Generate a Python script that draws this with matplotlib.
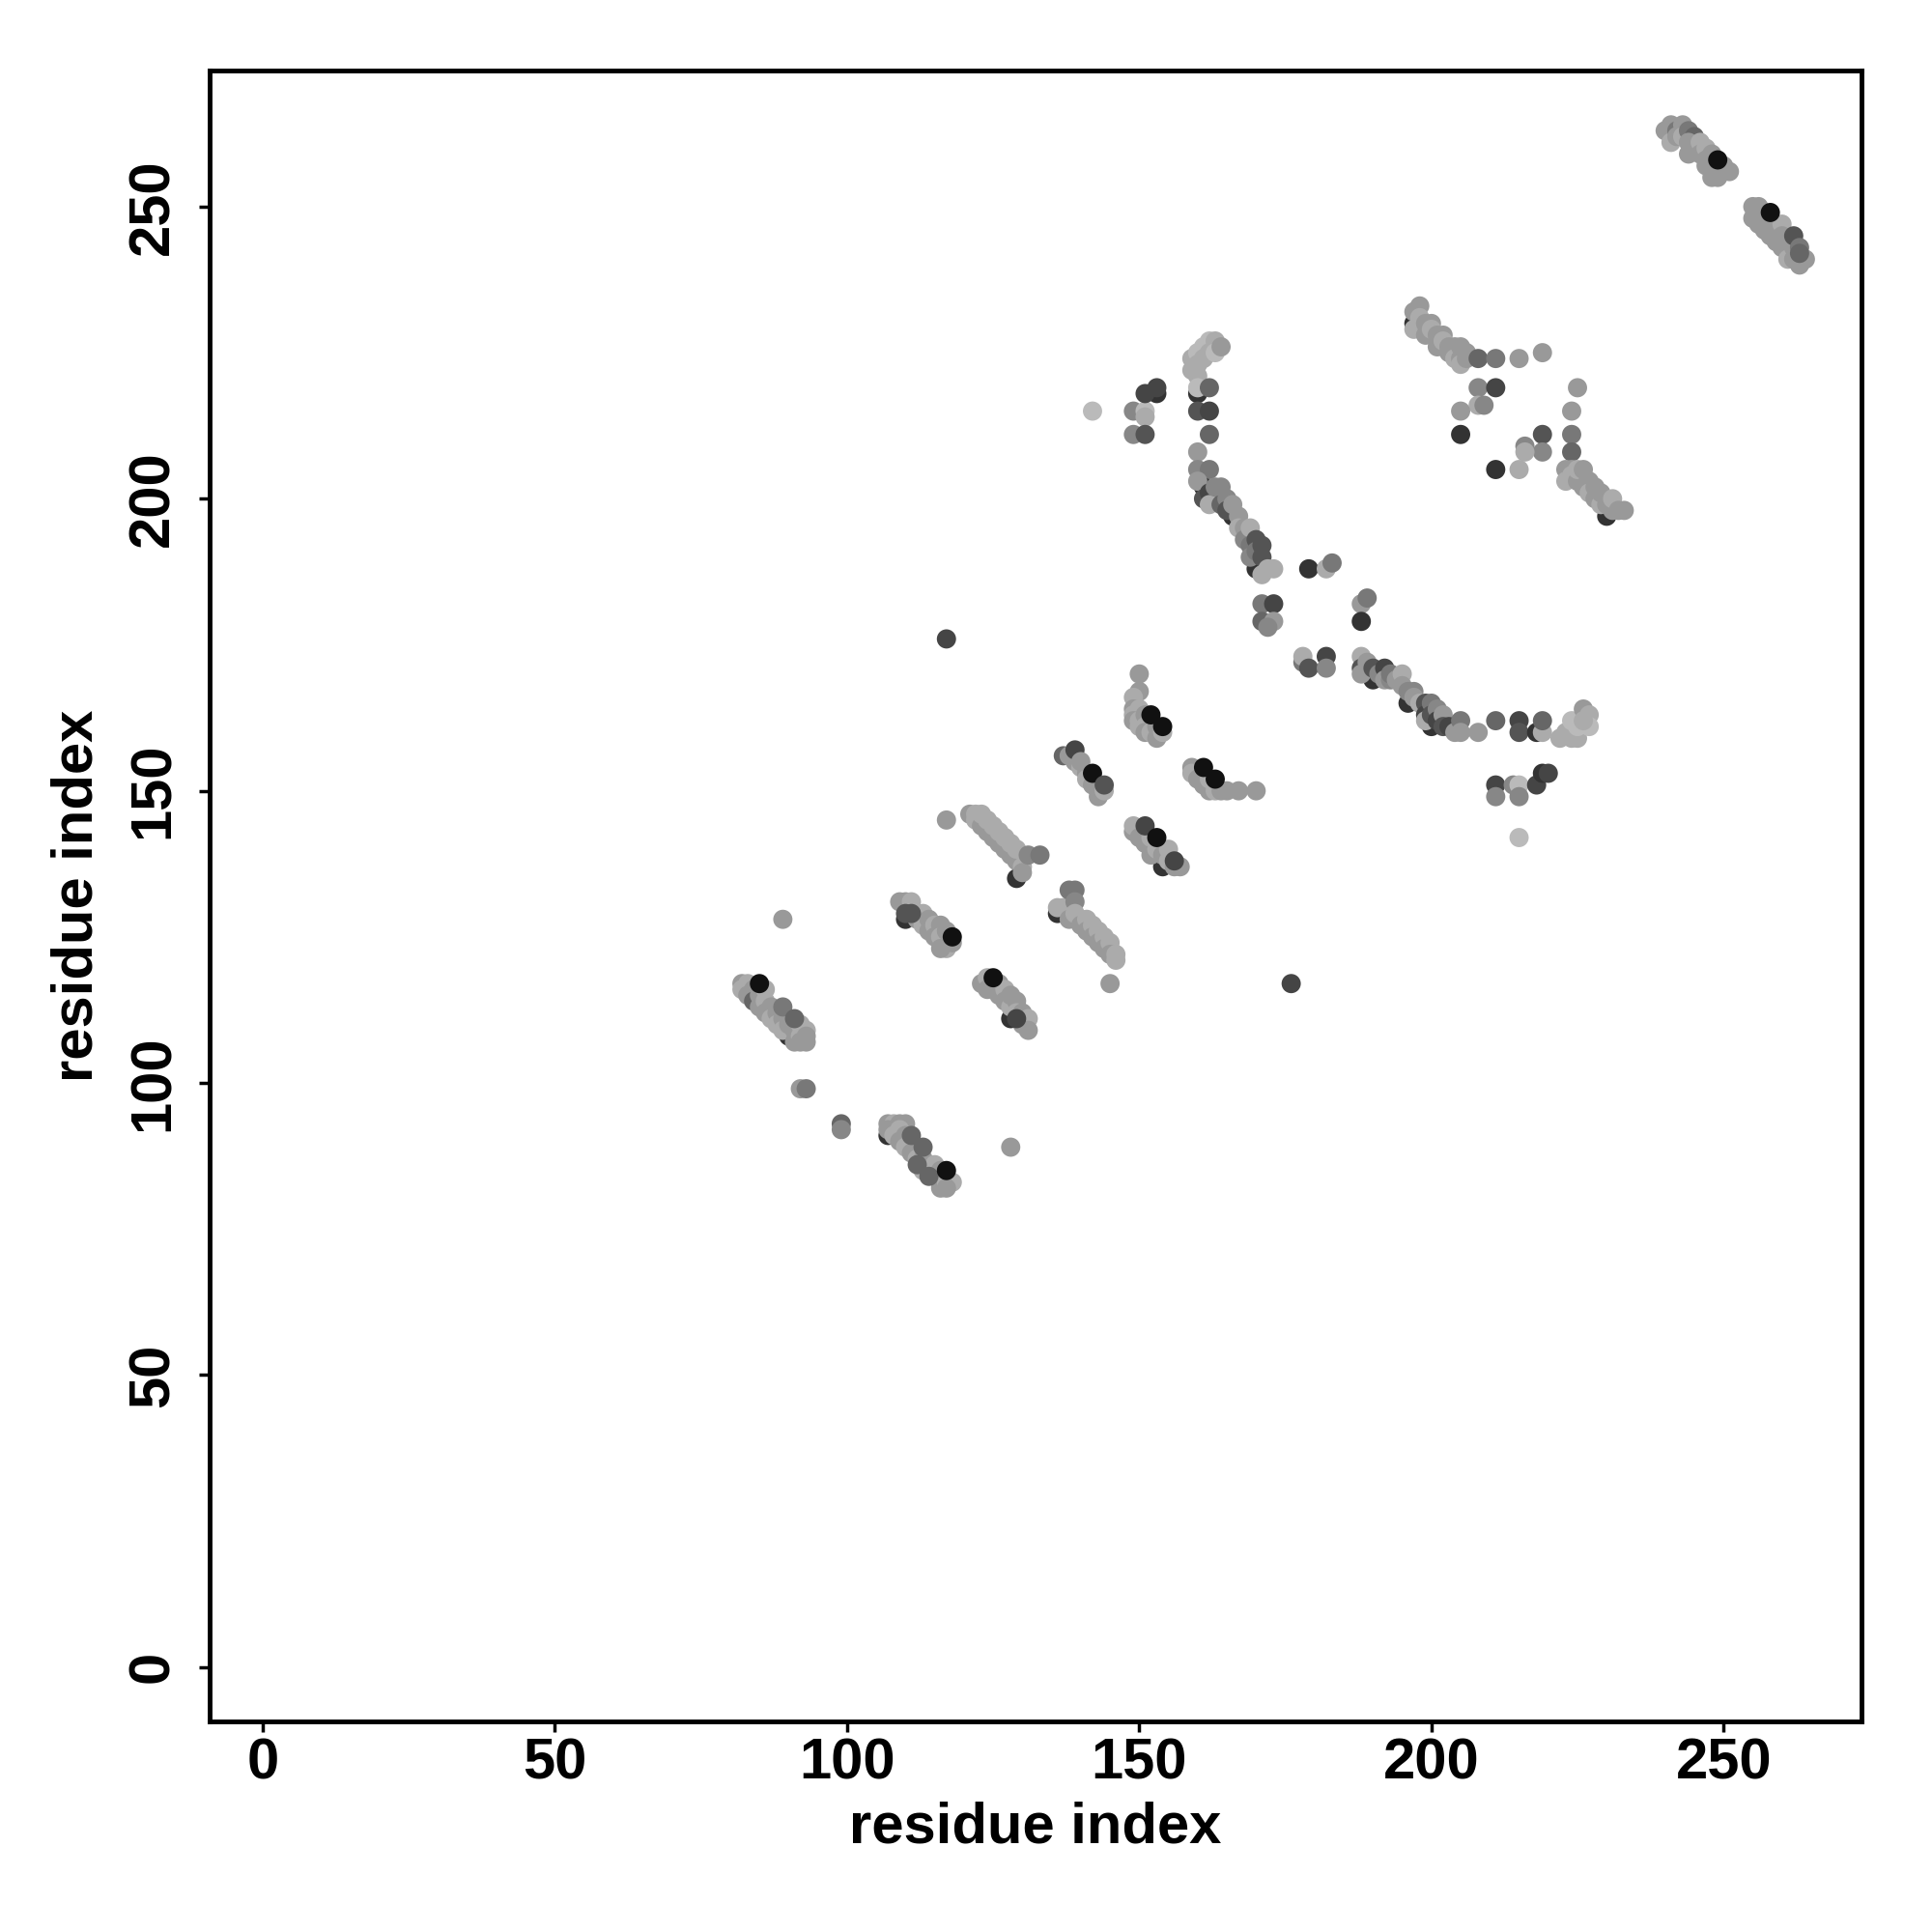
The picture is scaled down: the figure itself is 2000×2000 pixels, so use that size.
import matplotlib
matplotlib.use('Agg')
import matplotlib.pyplot as plt

# contact points: (residue i, residue j, shade 0=black .. 1=white)
band_a = [(90, 108, .2), (82, 117, .6), (82, 116, .67), (83, 117, .67), (83, 115, .6), (84, 116, .6), (84, 114, .4),
          (85, 115, .6), (85, 113, .6), (86, 116, .67), (86, 114, .67), (86, 112, .6), (87, 113, .6),
          (87, 111, .67), (88, 112, .6), (88, 110, .67), (89, 111, .6), (89, 109, .67), (90, 110, .6),
          (91, 109, .6), (91, 107, .6), (92, 110, .67), (92, 108, .67), (92, 107, .6), (93, 109, .67),
          (93, 108, .6), (93, 107, .6), (85, 117, .07), (89, 113, .47), (91, 111, .4)]

band_b = [(107, 91, .2), (107, 93, .6), (108, 93, .67), (109, 93, .6), (110, 93, .6), (107, 92, .6), (108, 91, .67),
          (109, 92, .67), (109, 90, .6), (110, 91, .6), (110, 89, .67), (111, 88, .6), (112, 89, .6),
          (112, 87, .67), (113, 87, .6), (113, 85, .67), (114, 86, .6), (115, 86, .67), (115, 84, .6),
          (116, 85, .6), (116, 82, .6), (117, 83, .67), (118, 83, .67), (117, 82, .6),
          (111, 91, .4), (113, 89, .4), (112, 86, .4), (114, 84, .4), (117, 85, .07)]

band_c = [(110, 128, .2), (109, 131, .6), (110, 131, .6), (111, 131, .67), (110, 129, .33), (112, 129, .67),
          (112, 128, .6), (113, 129, .67), (113, 127, .67), (114, 128, .6), (114, 126, .6), (115, 127, .67),
          (115, 125, .6), (116, 127, .6), (116, 125, .67), (117, 126, .6), (117, 123, .67), (118, 124, .6),
          (116, 123, .6), (111, 129, .33), (118, 125, .07)]

band_d = [(128, 111, .2), (123, 117, .6), (124, 118, .67), (124, 116, .6), (125, 116, .6), (126, 117, .6),
          (126, 115, .6), (127, 116, .67), (127, 114, .6), (128, 113, .67), (128, 115, .6), (129, 114, .6),
          (129, 112, .67), (130, 112, .6), (130, 110, .6), (131, 111, .67), (131, 109, .6),
          (125, 118, .07), (129, 111, .27)]

band_e = [(129, 135, .2), (121, 146, .6), (122, 146, .67), (122, 145, .67), (123, 144, .6), (123, 146, .67),
          (124, 143, .6), (124, 145, .67), (125, 142, .6), (125, 144, .67), (126, 141, .6), (126, 143, .67),
          (127, 140, .6), (127, 142, .67), (128, 139, .6), (128, 141, .67), (129, 138, .6), (129, 140, .67),
          (130, 137, .67), (130, 136, .6), (131, 139, .53), (133, 139, .47)]

band_f = [(136, 129, .2), (136, 130, .67), (137, 130, .67), (138, 133, .47), (139, 133, .47), (139, 131, .53),
          (138, 128, .6), (139, 129, .67), (140, 128, .67), (140, 127, .6), (141, 128, .67), (141, 126, .6),
          (142, 127, .67), (142, 125, .6), (143, 126, .67), (143, 124, .6), (144, 125, .67), (144, 123, .6),
          (145, 124, .67), (145, 122, .6), (146, 122, .67), (146, 121, .67)]

band_g = [(137, 156, .4), (138, 156, .6), (139, 155, .6), (139, 157, .27), (140, 154, .67), (140, 155, .6),
          (141, 153, .6), (141, 152, .67), (142, 151, .6), (143, 150, .6), (143, 149, .6), (144, 150, .67),
          (142, 153, .07), (144, 151, .33)]

band_h = [(154, 137, .2), (149, 143, .6), (149, 144, .67), (150, 142, .6), (151, 141, .6), (152, 142, .67),
          (152, 139, .6), (153, 140, .67), (154, 139, .6), (155, 140, .67), (155, 138, .67), (156, 137, .6),
          (157, 137, .6), (151, 144, .27), (153, 142, .07), (156, 138, .27)]

band_i = [(150, 170, .6), (150, 167, .6), (149, 166, .67), (149, 164, .6), (150, 164, .67), (149, 163, .67),
          (149, 162, .6), (150, 162, .67), (150, 161, .67), (151, 163, .6), (151, 161, .67), (151, 160, .6),
          (152, 160, .67), (153, 161, .6), (153, 159, .6), (154, 160, .67), (152, 163, .07), (154, 161, .07)]

band_j = [(159, 154, .6), (159, 153, .67), (160, 152, .6), (161, 151, .6), (162, 150, .6), (162, 152, .67),
          (163, 150, .67), (164, 150, .6), (165, 150, .6), (167, 150, .6), (170, 150, .6),
          (161, 154, .07), (163, 152, .07)]

patch_k = [(142, 215, .73), (149, 215, .53), (151, 215, .73), (151, 214, .67), (149, 211, .53),
           (151, 211, .33), (153, 218, .2), (151, 218, .27), (153, 219, .27)]

arc_top = [(160, 218, .2), (159, 224, .67), (159, 222, .67), (160, 225, .73), (160, 223, .67), (160, 221, .67),
           (161, 226, .73), (161, 224, .67), (162, 227, .73), (162, 225, .67), (163, 227, .67),
           (163, 225, .73), (164, 226, .6), (160, 219, .73), (162, 219, .4),
           (160, 215, .33), (162, 215, .27), (162, 211, .4), (160, 208, .6), (160, 205, .53), (162, 205, .47)]

arc_low = [(161, 202, .2), (163, 200, .2), (166, 197, .2), (170, 188, .2),
           (160, 203, .6), (161, 200, .33), (162, 201, .27), (162, 199, .67),
           (163, 202, .53), (164, 202, .53), (164, 199, .4), (165, 200, .53), (165, 198, .33),
           (166, 199, .6), (167, 197, .6), (167, 195, .67), (168, 195, .6), (168, 193, .53), (169, 195, .67),
           (169, 192, .47), (169, 190, .53), (170, 193, .33), (170, 191, .47), (171, 192, .33),
           (171, 190, .33), (171, 187, .67), (172, 188, .67), (173, 188, .67)]

middle = [(171, 182, .47), (173, 182, .27), (171, 179, .4), (173, 179, .6), (172, 178, .53), (179, 188, .2),
          (182, 188, .67), (183, 189, .47), (188, 182, .6), (189, 183, .47), (188, 179, .2), (178, 172, .47),
          (178, 173, .67), (179, 171, .33), (182, 173, .27), (182, 171, .53)]

lower_arc = [(190, 169, .2), (196, 165, .2), (200, 161, .2),
             (188, 173, .67), (188, 171, .33), (188, 170, .6), (189, 172, .6), (190, 171, .33),
             (191, 170, .53), (192, 171, .27), (192, 169, .6), (193, 169, .53), (193, 170, .47), (194, 169, .6),
             (195, 170, .67), (195, 168, .6), (196, 167, .53), (197, 167, .53), (197, 166, .6),
             (198, 165, .67), (199, 165, .33), (199, 163, .27), (199, 162, .67), (200, 165, .47),
             (200, 163, .33), (201, 164, .53), (201, 162, .27), (202, 163, .6), (202, 161, .33), (203, 161, .27),
             (204, 160, .6), (205, 162, .47), (205, 160, .6), (208, 160, .6), (211, 162, .4), (215, 162, .27),
             (215, 160, .33), (218, 160, .2), (219, 160, .67), (219, 162, .4), (222, 159, .67), (223, 160, .67),
             (224, 159, .67), (225, 159, .67), (224, 162, .73), (225, 161, .73), (226, 164, .6), (227, 163, .67),
             (227, 161, .73), (226, 162, .67)]

below_arc = [(211, 151, .27), (211, 149, .53), (214, 151, .53), (215, 151, .73), (215, 149, .53),
             (218, 151, .27), (219, 153, .2), (220, 153, .27), (215, 142, .73)]

band_l = [(197, 230, .2), (197, 232, .6), (197, 229, .67), (198, 233, .6), (198, 231, .67), (199, 230, .6),
          (199, 228, .6), (200, 230, .6), (200, 229, .67), (201, 228, .6), (201, 226, .6), (202, 228, .6),
          (202, 227, .67), (203, 226, .6), (203, 225, .6), (204, 226, .6), (204, 224, .67), (205, 226, .6),
          (205, 224, .6), (205, 223, .67), (206, 224, .6), (206, 225, .6)]

patch_m = [(208, 224, .4), (211, 224, .47), (215, 224, .6), (219, 225, .6), (208, 219, .53), (211, 219, .27),
           (208, 216, .67), (209, 216, .53), (205, 215, .6), (205, 211, .2), (225, 219, .6), (224, 215, .6),
           (224, 211, .47), (224, 208, .4), (219, 211, .33), (219, 208, .53), (216, 209, .53), (216, 208, .67),
           (211, 205, .2), (215, 205, .67)]

band_n = [(230, 197, .2), (223, 205, .6), (223, 203, .67), (224, 205, .6), (224, 204, .67), (225, 203, .6),
          (225, 205, .67), (226, 205, .6), (226, 202, .6), (227, 203, .6), (227, 201, .67), (228, 202, .6),
          (228, 200, .6), (229, 199, .67), (229, 201, .6), (230, 199, .6), (231, 198, .6), (231, 200, .67),
          (232, 198, .6), (233, 198, .6)]

band_o = [(240, 263, .6), (241, 264, .6), (241, 261, .67), (242, 263, .47), (243, 264, .6), (242, 262, .6),
          (243, 262, .67), (244, 263, .47), (245, 262, .4), (244, 261, .6), (244, 259, .6), (245, 260, .6),
          (246, 261, .67), (246, 259, .6), (247, 260, .67), (247, 258, .6), (247, 257, .6), (248, 259, .6),
          (248, 257, .6), (248, 255, .6), (249, 256, .6), (249, 255, .6), (250, 257, .6), (250, 256, .6),
          (251, 256, .6), (249, 258, .07)]

band_p = [(255, 250, .6), (255, 248, .6), (256, 250, .6), (256, 249, .6), (256, 247, .6), (257, 248, .6),
          (257, 246, .6), (258, 247, .6), (258, 245, .6), (259, 244, .6), (259, 246, .6), (260, 247, .67),
          (260, 245, .6), (260, 243, .6), (261, 244, .6), (261, 241, .67), (262, 243, .6), (262, 241, .6),
          (263, 240, .6), (264, 241, .6), (262, 245, .33), (263, 243, .47), (263, 242, .4), (258, 249, .07)]

singles = [(89, 128, .6), (92, 99, .6), (93, 99, .47), (99, 93, .4), (99, 92, .53), (128, 89, .6),
           (117, 145, .6), (145, 117, .6), (176, 117, .27), (117, 176, .27)]

ticks = [0, 50, 100, 150, 200, 250]

groups = [band_a, band_b, band_c, band_d, band_e, band_f, band_g, band_h, band_i, band_j,
          patch_k, arc_top, arc_low, middle, lower_arc, below_arc, band_l, patch_m, band_n,
          band_o, band_p, singles]

xs, ys, shades = [], [], []
for g in groups:
    for px, py, sh in g:
        xs.append(px)
        ys.append(py)
        shades.append(sh)

plt.rcParams['font.family'] = ['Liberation Sans', 'DejaVu Sans']
plt.rcParams['font.weight'] = 'bold'

fig = plt.figure(figsize=(20, 20), dpi=100)
ax = fig.add_axes([0.1085, 0.109, 0.855, 0.8545])

ax.scatter(xs, ys, c=shades, cmap='gray', vmin=0, vmax=1, s=205, linewidths=0)

ax.set_xlim(-9.1, 273.6)
ax.set_ylim(-9.3, 273.3)
ax.set_xticks(ticks)
ax.set_yticks(ticks)
ax.set_xticklabels([str(t) for t in ticks], fontsize=43, fontweight='bold')
ax.set_yticklabels([str(t) for t in ticks], fontsize=43, fontweight='bold',
                   rotation=90, va='center')
ax.tick_params(axis='both', direction='out', length=8, width=2.5, color='black')
ax.tick_params(axis='x', pad=4)
ax.tick_params(axis='y', pad=14)

for spine in ax.spines.values():
    spine.set_linewidth(3.5)
    spine.set_edgecolor('black')

ax.set_xlabel('residue index', fontsize=43, fontweight='bold')
ax.set_ylabel('residue index', fontsize=43, fontweight='bold')
ax.xaxis.set_label_coords(0.5, -0.0644)
ax.xaxis.label.set_va('center')
ax.yaxis.set_label_coords(-0.0801, 0.5)
ax.yaxis.label.set_va('center')

fig.savefig('out.png', dpi=100, facecolor='white')
